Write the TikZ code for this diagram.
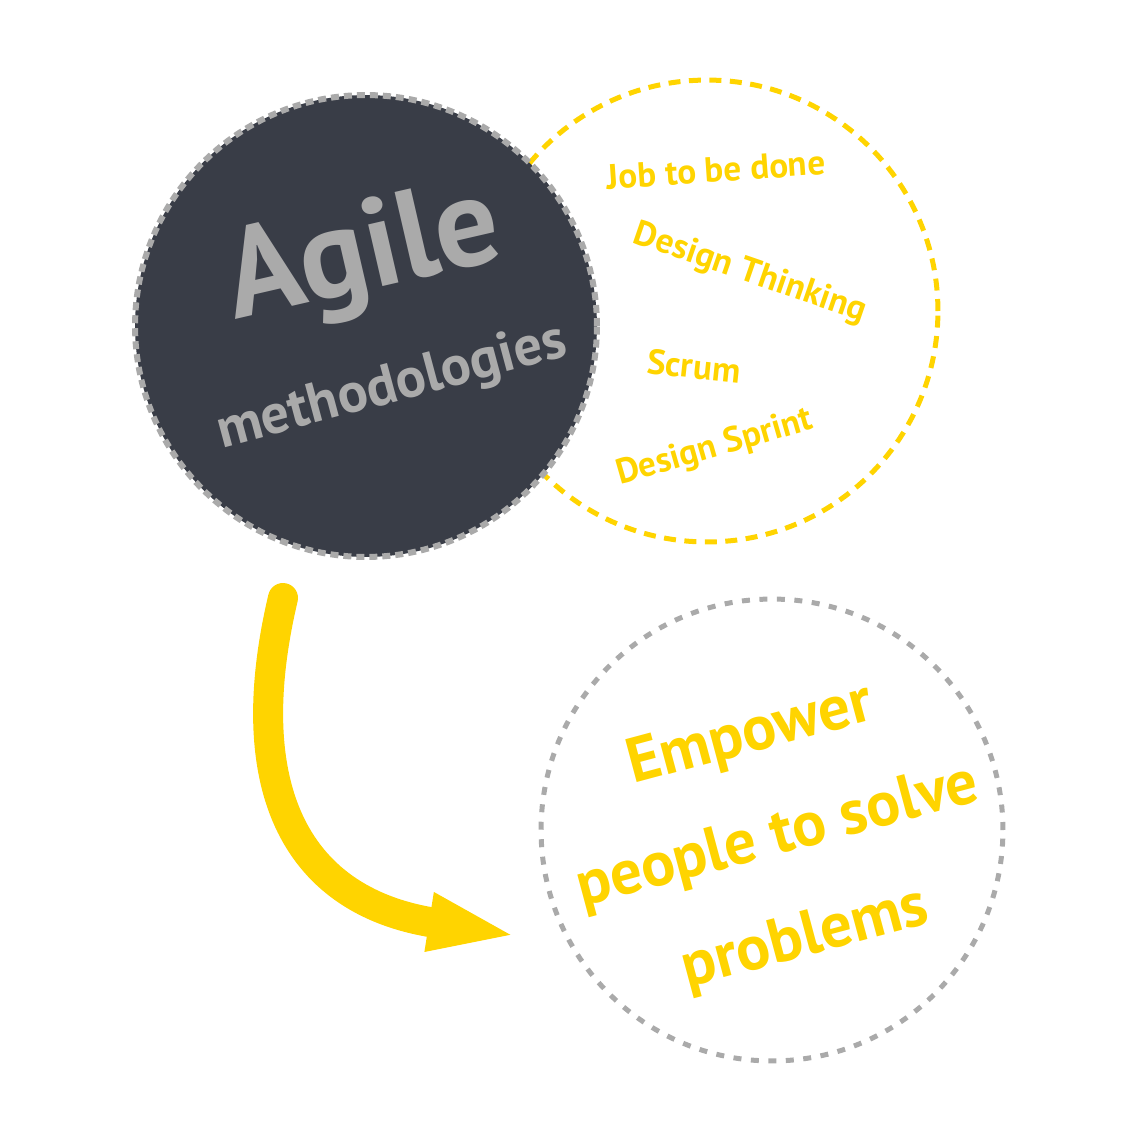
\documentclass[tikz,border=0pt]{standalone}
\usepackage{fontspec}
\setmainfont{PT Sans}
\usetikzlibrary{arrows.meta, positioning}

\definecolor{slate}{HTML}{393D47}
\definecolor{sun}{HTML}{FFD400}
\definecolor{ash}{HTML}{AAAAAA}

\tikzset{
    bubble/.style={circle, minimum size=9.24cm, inner sep=0pt},
    core/.style={bubble, fill=slate, draw=ash, line width=0.12cm, dash pattern=on 0.16cm off 0.1cm},
    ring/.style={bubble, draw=sun, line width=0.1cm, dash pattern=on 0.24cm off 0.17cm},
    goal/.style={bubble, draw=ash, line width=0.1cm, dash pattern=on 0.16cm off 0.19cm},
    tool/.style={text=sun, inner sep=0pt, font=\bfseries\fontsize{20}{24}\selectfont},
    flow/.style={draw=sun, line width=0.6cm, line cap=round, -{Triangle[length=1.8cm, width=1.05cm]}}
}

\begin{document}
\begin{tikzpicture}[x=0.02cm, y=-0.02cm]
    \useasboundingbox (0,0) rectangle (1140,1140);
    	\node[ring] (methods) at (707,311) {};
    	\node[core] (agile) at (366,326) {};
    	\node[goal] (purpose) at (772,830) {};
    %
    	\node[text=ash, rotate=13, inner sep=0pt, font=\bfseries\fontsize{72}{80}\selectfont] (title) at (364,258) {Agile};
    	\node[text=ash, rotate=15, inner sep=0pt, font=\bfseries\fontsize{32}{40}\selectfont] (subtitle) at (392,388) {methodologies};
    %
    	\node[tool, rotate=4] (jtbd) at (716,170) {Job to be done};
    	\node[tool, rotate=-19] (thinking) at (750,274) {Design Thinking};
    	\node[tool, rotate=-6] (scrum) at (694,366) {Scrum};
    	\node[tool, rotate=16] (sprint) at (715,448) {Design Sprint};
    %
    	\node[text=sun, rotate=15, align=center, font=\bfseries\fontsize{36}{60}\selectfont] (mission) at (778,838)
    	 {Empower\\people to solve\\problems};
    %
    	\coordinate (from) at (283,598);
    	\coordinate (to) at (518,936);
    	\path[flow] (from) .. controls (240,780) and (290,900) .. (to);
\end{tikzpicture}
\end{document}
